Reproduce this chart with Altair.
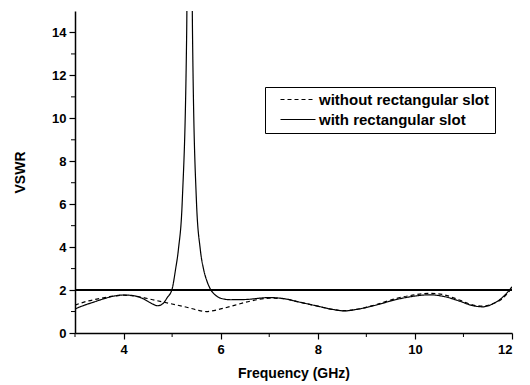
import altair as alt
import pandas as pd

# --- data ---
freq_without = [3.0, 3.2, 3.5, 3.8, 4.0, 4.3, 4.6, 5.0, 5.3, 5.5, 5.7, 6.0, 6.3, 6.6, 7.0,
                7.3, 7.6, 8.0, 8.3, 8.55, 8.8, 9.2, 9.6, 10.0, 10.3, 10.6, 10.9, 11.2, 11.4,
                11.6, 11.8, 12.0]
vswr_without = [1.3, 1.45, 1.6, 1.72, 1.76, 1.7, 1.55, 1.35, 1.2, 1.08, 1.0, 1.12, 1.3, 1.48, 1.62,
                1.6, 1.45, 1.25, 1.1, 1.04, 1.1, 1.32, 1.6, 1.78, 1.85, 1.78, 1.55, 1.3, 1.25,
                1.36, 1.6, 2.1]

freq_with = [3.0, 3.2, 3.4, 3.6, 3.8, 4.0, 4.2, 4.4, 4.6, 4.7, 4.8, 4.9, 5.0, 5.07, 5.13,
             5.21, 5.3, 5.36, 5.42, 5.5, 5.58, 5.65, 5.72, 5.8, 5.9,
             6.0, 6.2, 6.5, 7.0, 7.3, 7.6, 8.0, 8.3, 8.55, 8.8, 9.2, 9.6, 10.0, 10.3, 10.6,
             10.9, 11.2, 11.4, 11.6, 11.8, 12.0]
vswr_with = [1.12, 1.3, 1.45, 1.6, 1.72, 1.77, 1.74, 1.6, 1.35, 1.27, 1.35, 1.65, 2.05, 2.95, 3.9,
             6.2, 14.0, 40.0, 14.0, 6.2, 3.9, 2.95, 2.4, 2.0, 1.75,
             1.62, 1.55, 1.56, 1.65, 1.6, 1.45, 1.25, 1.1, 1.03, 1.1, 1.3, 1.55, 1.72, 1.78, 1.7,
             1.5, 1.27, 1.22, 1.35, 1.65, 2.15]

series_names = ["without rectangular slot", "with rectangular slot"]
x_ticks = [4, 6, 8, 10, 12]
x_minor = [3, 5, 7, 9, 11]
y_ticks = [0, 2, 4, 6, 8, 10, 12, 14]
y_minor = [1, 3, 5, 7, 9, 11, 13]
ref_level = 2

df = pd.concat([
    pd.DataFrame({"f": freq_without, "v": vswr_without, "s": series_names[0]}),
    pd.DataFrame({"f": freq_with, "v": vswr_with, "s": series_names[1]}),
])

FONT = "Liberation Sans"
W, H = 437, 322

xs = alt.Scale(domain=[3, 12], nice=False, zero=False)
ys = alt.Scale(domain=[0, 15], nice=False)

lines = alt.Chart(df).mark_line(color="black", strokeWidth=1.2, clip=True, interpolate="monotone").encode(
    x=alt.X("f:Q", scale=xs,
            axis=alt.Axis(values=x_ticks, title="Frequency (GHz)", format="d")),
    y=alt.Y("v:Q", scale=ys,
            axis=alt.Axis(values=y_ticks, title="VSWR", format="d")),
    strokeDash=alt.StrokeDash("s:N", scale=alt.Scale(domain=series_names, range=[[4, 3], [1, 0]]),
                              legend=alt.Legend(title=None, orient="none", legendX=190, legendY=76,
                                                symbolType="M-1,0H6", symbolSize=100,
                                                symbolStrokeColor="black", symbolStrokeWidth=1.2,
                                                symbolOffset=8,
                                                labelFont=FONT, labelFontSize=15, labelFontWeight="bold",
                                                labelColor="black", strokeColor="black", labelLimit=300,
                                                padding=5, rowPadding=4, labelOffset=26,
                                                fillColor="white")),
)

ref = alt.Chart(pd.DataFrame({"a": [3], "b": [12], "y": [ref_level]})).mark_rule(
    color="black", strokeWidth=2).encode(
    x=alt.X("a:Q", scale=xs), x2="b:Q", y=alt.Y("y:Q", scale=ys))

xminor = alt.Chart(pd.DataFrame({"m": x_minor})).mark_rule(color="black", strokeWidth=1).encode(
    x=alt.X("m:Q", scale=xs), y=alt.value(H), y2=alt.value(H + 4))
yminor = alt.Chart(pd.DataFrame({"m": y_minor})).mark_rule(color="black", strokeWidth=1).encode(
    y=alt.Y("m:Q", scale=ys), x=alt.value(0), x2=alt.value(-4))

chart = alt.layer(lines, ref, xminor, yminor).properties(
    width=W, height=H,
    padding={"left": 75, "top": 11, "right": 18, "bottom": 52},
    autosize=alt.AutoSizeParams(type="none"),
).configure_view(stroke=None).configure_axis(
    domainColor="black", domainWidth=1.5, tickColor="black", tickSize=6, tickWidth=1.2,
    labelFont=FONT, labelFontSize=13, labelFontWeight="bold", labelColor="black",
    titleFont=FONT, titleFontSize=14, titleFontWeight="bold", titleColor="black",
    grid=False,
).configure_axisX(labelPadding=4, titlePadding=10).configure_axisY(labelPadding=3, titlePadding=24)

chart.save("out.html", embed_options={"renderer": "svg", "actions": False})
